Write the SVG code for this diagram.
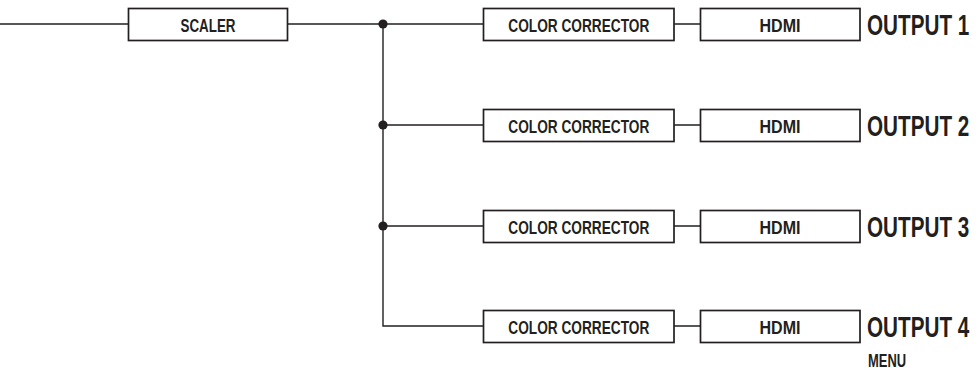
<svg xmlns="http://www.w3.org/2000/svg" width="980" height="372" viewBox="0 0 980 372">
<style>
.box{fill:#fff;stroke:#231f20;stroke-width:1.7}
.ln{fill:none;stroke:#231f20;stroke-width:1.4}
.dot{fill:#231f20}
.t{font-family:"Liberation Sans",Arial,sans-serif;font-weight:bold;fill:#231f20;text-anchor:middle;font-size:19px}
.o{font-family:"Liberation Sans",Arial,sans-serif;font-weight:bold;fill:#231f20;font-size:30px}
.m{font-family:"Liberation Sans",Arial,sans-serif;font-weight:bold;fill:#231f20;font-size:18px}
</style>
<rect width="980" height="372" fill="#fff"/>
<g id="connectors">
<path class="ln" d="M0 24H128.5M287.5 24H483.5M383 24V326H483.5M383 125H483.5M383 226H483.5"/>
<path class="ln" d="M674 24H700.5M674 125H700.5M674 226H700.5M674 326H700.5"/>
<circle class="dot" cx="383" cy="24" r="4.6"/>
<circle class="dot" cx="383" cy="125" r="4.6"/>
<circle class="dot" cx="383" cy="226" r="4.6"/>
</g>
<g id="scaler"><rect class="box" x="128.5" y="8.5" width="159" height="32"/><text class="t" x="208" y="31.5" textLength="55" lengthAdjust="spacingAndGlyphs">SCALER</text></g>
<g id="cc1"><rect class="box" x="483.5" y="8.5" width="190.5" height="32"/><text class="t" x="578.8" y="31.5" textLength="141" lengthAdjust="spacingAndGlyphs">COLOR CORRECTOR</text></g>
<g id="hdmi1"><rect class="box" x="700.5" y="8.5" width="159.5" height="32"/><text class="t" x="780" y="31.5" textLength="41" lengthAdjust="spacingAndGlyphs">HDMI</text></g>
<g id="out1"><text class="o" transform="translate(867 34.5) scale(0.69 1)">OUTPUT 1</text></g>
<g id="cc2"><rect class="box" x="483.5" y="109.5" width="190.5" height="32"/><text class="t" x="578.8" y="132.5" textLength="141" lengthAdjust="spacingAndGlyphs">COLOR CORRECTOR</text></g>
<g id="hdmi2"><rect class="box" x="700.5" y="109.5" width="159.5" height="32"/><text class="t" x="780" y="132.5" textLength="41" lengthAdjust="spacingAndGlyphs">HDMI</text></g>
<g id="out2"><text class="o" transform="translate(867 135.5) scale(0.69 1)">OUTPUT 2</text></g>
<g id="cc3"><rect class="box" x="483.5" y="210.5" width="190.5" height="32"/><text class="t" x="578.8" y="233.5" textLength="141" lengthAdjust="spacingAndGlyphs">COLOR CORRECTOR</text></g>
<g id="hdmi3"><rect class="box" x="700.5" y="210.5" width="159.5" height="32"/><text class="t" x="780" y="233.5" textLength="41" lengthAdjust="spacingAndGlyphs">HDMI</text></g>
<g id="out3"><text class="o" transform="translate(867 236.5) scale(0.69 1)">OUTPUT 3</text></g>
<g id="cc4"><rect class="box" x="483.5" y="310.5" width="190.5" height="32"/><text class="t" x="578.8" y="333.5" textLength="141" lengthAdjust="spacingAndGlyphs">COLOR CORRECTOR</text></g>
<g id="hdmi4"><rect class="box" x="700.5" y="310.5" width="159.5" height="32"/><text class="t" x="780" y="333.5" textLength="41" lengthAdjust="spacingAndGlyphs">HDMI</text></g>
<g id="out4"><text class="o" transform="translate(867 336.5) scale(0.69 1)">OUTPUT 4</text></g>
<g id="menu"><text class="m" transform="translate(868 367) scale(0.72 1)">MENU</text></g>
</svg>
